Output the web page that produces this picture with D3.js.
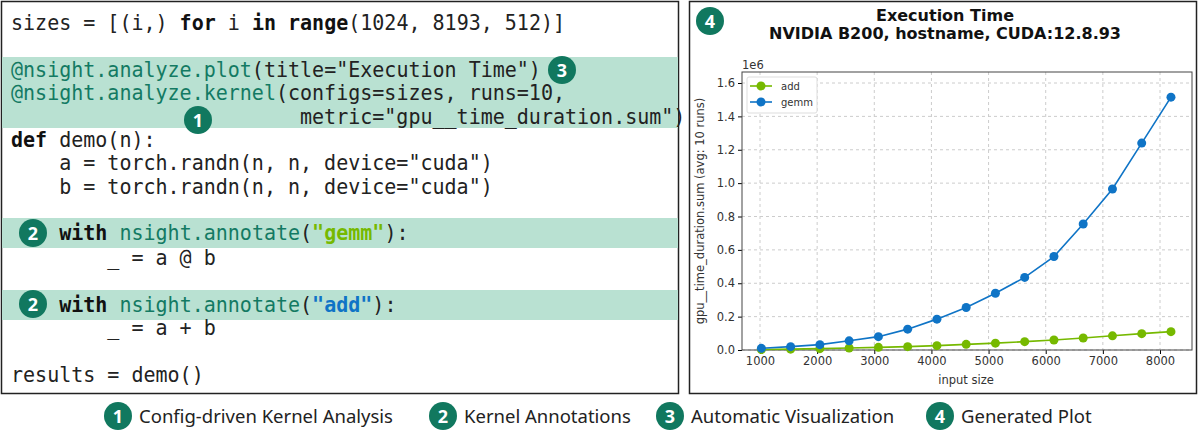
<!DOCTYPE html><html><head><meta charset="utf-8"><script src="https://cdn.jsdelivr.net/npm/d3@7"></script>
<style>body{margin:0;background:#fff}</style></head><body><svg id="s" width="1200" height="434"></svg>
<script>
const sizes = [1024,1536,2048,2560,3072,3584,4096,4608,5120,5632,6144,6656,7168,7680,8192];
const gemm = [0.010,0.020,0.032,0.055,0.080,0.125,0.185,0.255,0.340,0.435,0.560,0.755,0.965,1.240,1.515].map(v=>v*1e6);
const add  = [0.003,0.005,0.008,0.012,0.016,0.020,0.026,0.034,0.041,0.050,0.060,0.072,0.085,0.098,0.110].map(v=>v*1e6);
const xTicks = [1000,2000,3000,4000,5000,6000,7000,8000];
const yTicks = [0,0.2,0.4,0.6,0.8,1.0,1.2,1.4,1.6];
const legendItems = ["Config-driven Kernel Analysis","Kernel Annotations","Automatic Visualization","Generated Plot"];

const svg = d3.select("#s");
const G="#76b900", B="#0f74c6", TEAL="#11785f", HL="#b9e1d2";
svg.append("rect").attr("x",1.5).attr("y",1.5).attr("width",677).attr("height",392).attr("fill","#fff").attr("stroke","#222").attr("stroke-width",1.5);
svg.append("rect").attr("x",689.5).attr("y",1.5).attr("width",507).attr("height",392).attr("fill","#fff").attr("stroke","#222").attr("stroke-width",1.5);
[[57,71],[218,30],[290,30]].forEach(([y,h])=>svg.append("rect").attr("x",2).attr("y",y).attr("width",676).attr("height",h).attr("fill",HL));
const code = [
 [30,[["sizes = [(i,) ",null],["for","b"],[" i ",null],["in","b"],[" ",null],["range","b"],["(1024, 8193, 512)]",null]]],
 [77,[["@nsight.analyze.plot","t"],["(title=\"Execution Time\")",null]]],
 [100,[["@nsight.analyze.kernel","t"],["(configs=sizes, runs=10,",null]]],
 [124,[["                        metric=\"gpu__time_duration.sum\")",null]]],
 [147,[["def","b"],[" demo(n):",null]]],
 [170,[["    a = torch.randn(n, n, device=\"cuda\")",null]]],
 [194,[["    b = torch.randn(n, n, device=\"cuda\")",null]]],
 [240,[["    ",null],["with","b"],[" ",null],["nsight.annotate","t"],["(",null],["\"gemm\"","g"],["):",null]]],
 [265,[["        _ = a @ b",null]]],
 [312,[["    ",null],["with","b"],[" ",null],["nsight.annotate","t"],["(",null],["\"add\"","bl"],["):",null]]],
 [335,[["        _ = a + b",null]]],
 [382,[["results = demo()",null]]]
];
code.forEach(([y,parts])=>{
  const t=svg.append("text").attr("transform",`translate(11,${y}) scale(0.91,1)`)
   .attr("font-family","DejaVu Sans Mono").attr("font-size",22).attr("fill","#222").attr("xml:space","preserve").style("white-space","pre");
  parts.forEach(([s,k])=>{const ts=t.append("tspan").text(s);
    if(k==="b")ts.attr("font-weight","bold").attr("fill","#111");
    if(k==="t")ts.attr("fill","#137a63");
    if(k==="g")ts.attr("fill",G).attr("font-weight","bold");
    if(k==="bl")ts.attr("fill",B).attr("font-weight","bold");});
});
function badge(x,y,n){svg.append("circle").attr("cx",x).attr("cy",y).attr("r",14).attr("fill",TEAL);
 svg.append("text").attr("x",x).attr("y",y+6.5).attr("text-anchor","middle").attr("fill","#fff").attr("font-family","Noto Sans").attr("font-weight","bold").attr("font-size",18).text(n);}
badge(562,70,3);badge(198,120,1);badge(33,233,2);badge(33,304,2);badge(710,21,4);
const lx=[118,443,670,940];
legendItems.forEach((s,i)=>{badge(lx[i],416,i+1);svg.append("text").attr("x",lx[i]+21).attr("y",423).attr("font-family","Noto Sans").attr("font-size",18.5).attr("fill","#222").text(s);});
const x=d3.scaleLinear().domain([1000,8000]).range([760,1160]);
const y=d3.scaleLinear().domain([0,1.6e6]).range([350,83]);
const L=742,R=1192,T=72,Bt=350;
const g=svg.append("g");
g.append("g").selectAll("line").data(xTicks).join("line").attr("x1",d=>x(d)).attr("x2",d=>x(d)).attr("y1",T).attr("y2",Bt).attr("stroke","#ccc").attr("stroke-dasharray","3,3");
g.append("g").selectAll("line").data(yTicks).join("line").attr("y1",d=>y(d*1e6)).attr("y2",d=>y(d*1e6)).attr("x1",L).attr("x2",R).attr("stroke","#ccc").attr("stroke-dasharray","3,3");
g.append("g").attr("transform",`translate(0,${Bt})`).call(d3.axisBottom(x).tickValues(xTicks).tickSize(4).tickFormat(d3.format("d"))).call(a=>{a.select(".domain").remove();a.selectAll("text").attr("font-family","DejaVu Sans").attr("font-size",11.5).attr("fill","#333");});
g.append("g").attr("transform",`translate(${L},0)`).call(d3.axisLeft(y).tickValues(yTicks.map(v=>v*1e6)).tickSize(4).tickFormat(d=>(d/1e6).toFixed(1))).call(a=>{a.select(".domain").remove();a.selectAll("text").attr("font-family","DejaVu Sans").attr("font-size",11.5).attr("fill","#333");});
g.append("rect").attr("x",L).attr("y",T).attr("width",R-L).attr("height",Bt-T).attr("fill","none").attr("stroke","#444");
const line=d3.line().x((d,i)=>x(sizes[i])).y(d=>y(d));
[[add,G],[gemm,B]].forEach(([data,c])=>{
 g.append("path").datum(data).attr("d",line).attr("fill","none").attr("stroke",c).attr("stroke-width",1.6);
 g.append("g").selectAll("circle").data(data).join("circle").attr("cx",(d,i)=>x(sizes[i])).attr("cy",d=>y(d)).attr("r",4.5).attr("fill",c);
});
const tf={"font-family":"DejaVu Sans","font-weight":"bold","font-size":16,"fill":"#111","text-anchor":"middle"};
[["Execution Time",21],["NVIDIA B200, hostname, CUDA:12.8.93",39]].forEach(([s,yy])=>{const t=svg.append("text").attr("x",945).attr("y",yy).text(s);for(const k in tf)t.attr(k,tf[k]);});
svg.append("text").attr("x",742).attr("y",69).attr("font-family","DejaVu Sans").attr("font-size",11.5).attr("fill","#333").text("1e6");
svg.append("text").attr("transform","translate(704,211) rotate(-90)").attr("text-anchor","middle").attr("font-family","DejaVu Sans").attr("font-size",11.5).attr("fill","#333").text("gpu__time_duration.sum (avg: 10 runs)");
svg.append("text").attr("x",966).attr("y",384).attr("text-anchor","middle").attr("font-family","DejaVu Sans").attr("font-size",11.5).attr("fill","#333").text("input size");
const lg=svg.append("g");
lg.append("rect").attr("x",747).attr("y",77).attr("width",70).attr("height",36).attr("fill","#fff").attr("stroke","#ddd").attr("rx",2);
[["add",G,86],["gemm",B,102]].forEach(([s,c,yy])=>{lg.append("line").attr("x1",750).attr("x2",772).attr("y1",yy).attr("y2",yy).attr("stroke",c).attr("stroke-width",1.6);
 lg.append("circle").attr("cx",761).attr("cy",yy).attr("r",4.5).attr("fill",c);
 lg.append("text").attr("x",781).attr("y",yy+4).attr("font-family","DejaVu Sans").attr("font-size",10).attr("fill","#333").text(s);});
</script></body></html>
